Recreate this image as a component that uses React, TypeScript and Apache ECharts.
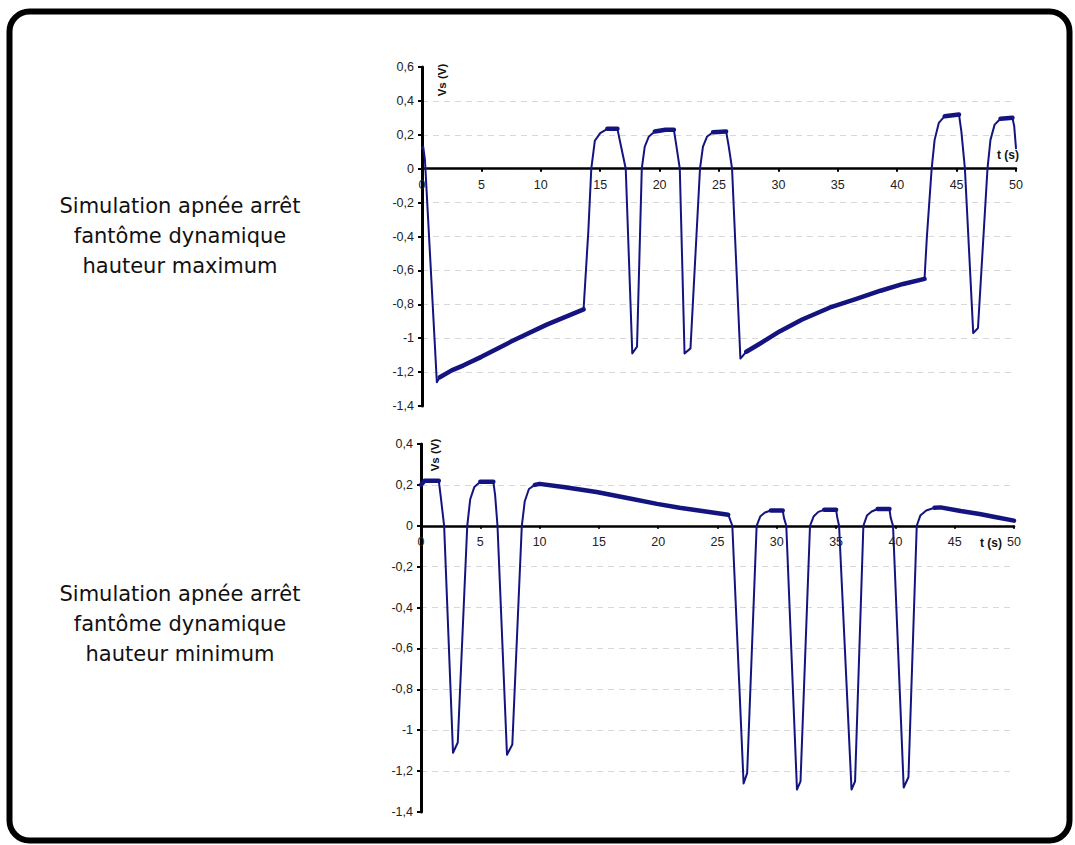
import React, { useEffect, useRef } from "react";
import * as echarts from "echarts";

// ---------- data ----------
const xTicks = [0, 5, 10, 15, 20, 25, 30, 35, 40, 45, 50];
const topYTicks = [0.6, 0.4, 0.2, 0, -0.2, -0.4, -0.6, -0.8, -1, -1.2, -1.4];
const bottomYTicks = [0.4, 0.2, 0, -0.2, -0.4, -0.6, -0.8, -1, -1.2, -1.4];

const topLabel = ["Simulation apnée arrêt", "fantôme dynamique", "hauteur maximum"];
const bottomLabel = ["Simulation apnée arrêt", "fantôme dynamique", "hauteur minimum"];
const yName = "Vs (V)";
const xName = "t (s)";

// Vs (V) vs t (s), hauteur maximum
const topTrace: [number, number][] = [
  [0, 0.12], [0.1, 0.13], [0.25, 0.05], [1.25, -1.26], [1.5, -1.23], [2.5, -1.19], [3.5, -1.16],
  [5, -1.11], [7.5, -1.02], [10.5, -0.92], [13.6, -0.83],
  [14.0, -0.37], [14.25, 0], [14.55, 0.165], [15.0, 0.21], [15.6, 0.235], [16.45, 0.235],
  [16.7, 0.15], [17.15, 0], [17.7, -1.09], [18.1, -1.05],
  [18.5, 0], [18.75, 0.13], [19.1, 0.19], [19.6, 0.22], [20.5, 0.23], [21.2, 0.23],
  [21.4, 0.14], [21.7, 0], [22.1, -1.09], [22.6, -1.06],
  [23.4, 0], [23.65, 0.13], [24.0, 0.19], [24.5, 0.215], [25.6, 0.22],
  [25.8, 0.14], [26.1, 0], [26.8, -1.12],
  [27.3, -1.08], [28.5, -1.03], [30.1, -0.96], [32, -0.89], [34.3, -0.82], [36.5, -0.77],
  [38.6, -0.72], [40.5, -0.68], [42.3, -0.65],
  [42.5, -0.4], [42.9, 0], [43.15, 0.17], [43.5, 0.27], [44.0, 0.31], [45.2, 0.32],
  [45.4, 0.22], [45.7, 0], [46.4, -0.97], [46.8, -0.94],
  [47.6, 0], [47.85, 0.17], [48.2, 0.26], [48.7, 0.295], [49.7, 0.3],
  [49.85, 0.25], [50, 0.12],
];
// time ranges where the recorded signal is noisy (drawn as a thicker band)
const topNoisy: [number, number][] = [
  [1.4, 13.6], [15.3, 16.45], [19.6, 21.2], [24.4, 25.6], [27.2, 42.3], [43.8, 45.2], [48.6, 49.7],
];

// Vs (V) vs t (s), hauteur minimum
const bottomTrace: [number, number][] = [
  [0, 0.2], [0.3, 0.22], [1.5, 0.22], [1.65, 0.15], [1.95, 0], [2.7, -1.11], [3.1, -1.06],
  [3.9, 0], [4.15, 0.13], [4.5, 0.19], [5.0, 0.215], [6.1, 0.215],
  [6.25, 0.15], [6.45, 0], [7.25, -1.12], [7.7, -1.07],
  [8.5, 0], [8.75, 0.12], [9.1, 0.18], [9.6, 0.2], [10.0, 0.205], [12, 0.19], [14.8, 0.165],
  [17.5, 0.135], [19.9, 0.107], [21.8, 0.088], [24, 0.07], [25.9, 0.054],
  [26.0, 0.04], [26.25, 0], [27.2, -1.26], [27.5, -1.21],
  [28.3, 0], [28.6, 0.045], [29.0, 0.065], [29.5, 0.075], [30.5, 0.075],
  [30.6, 0.04], [30.8, 0], [31.7, -1.29], [32.0, -1.25],
  [32.8, 0], [33.1, 0.045], [33.5, 0.068], [34.0, 0.078], [35.0, 0.078],
  [35.1, 0.04], [35.25, 0], [36.3, -1.29], [36.6, -1.25],
  [37.3, 0], [37.6, 0.05], [38.0, 0.07], [38.5, 0.082], [39.5, 0.082],
  [39.6, 0.04], [39.8, 0], [40.7, -1.28], [41.1, -1.23],
  [41.8, 0], [42.1, 0.05], [42.6, 0.075], [43.3, 0.088], [43.8, 0.09], [45.5, 0.072],
  [47.1, 0.058], [48.5, 0.042], [50, 0.025],
];
const bottomNoisy: [number, number][] = [
  [0, 1.5], [4.8, 6.1], [9.3, 25.9], [29.3, 30.5], [33.8, 35.0], [38.3, 39.5], [42.8, 50],
];

// ---------- helpers ----------
const LINE = "#141480";
const fmt = (v: number) => String(+v.toFixed(1)).replace(".", ",");
const labelFont = "Liberation Sans, Arial, sans-serif";

function bandData(trace: [number, number][], ranges: [number, number][]) {
  const out: any[] = [];
  ranges.forEach(([a, b], i) => {
    trace.forEach((p) => {
      if (p[0] >= a - 1e-9 && p[0] <= b + 1e-9) out.push(p);
    });
    if (i < ranges.length - 1) out.push([(a + b) / 2, null]);
  });
  return out;
}

// the x axis is drawn through y = 0 (labels follow it): shift it up from the grid bottom
function zeroOffset(gridHeight: number, ticks: number[]) {
  const max = ticks[0];
  const min = ticks[ticks.length - 1];
  return -gridHeight * ((0 - min) / (max - min));
}

function xAxisCfg(gridIndex: number, offset: number) {
  return {
    type: "value",
    gridIndex,
    position: "bottom",
    offset,
    min: xTicks[0],
    max: xTicks[xTicks.length - 1],
    interval: xTicks[1] - xTicks[0],
    axisLine: { onZero: false, lineStyle: { color: "#000", width: 2.5 } },
    axisTick: { show: true, inside: false, length: 3, lineStyle: { color: "#000", width: 2 } },
    axisLabel: {
      margin: 10,
      fontSize: 12.5,
      color: "#222",
      fontFamily: labelFont,
      formatter: (v: number) => String(v),
      showMaxLabel: true,
    },
    splitLine: { show: false },
  };
}

function yAxisCfg(gridIndex: number, ticks: number[]) {
  return {
    type: "value",
    gridIndex,
    min: ticks[ticks.length - 1],
    max: ticks[0],
    interval: 0.2,
    axisLine: { show: true, onZero: false, lineStyle: { color: "#000", width: 3 } },
    axisTick: { show: true, inside: false, length: 4, lineStyle: { color: "#000", width: 2 } },
    axisLabel: {
      margin: 8,
      fontSize: 12.5,
      color: "#222",
      fontFamily: labelFont,
      formatter: fmt,
    },
    splitLine: {
      show: true,
      showMinLine: false,
      showMaxLine: false,
      lineStyle: { color: "#d8d8d8", type: [6, 5], width: 1 },
    },
  };
}

function lineSeries(idx: number, data: any[], width: number) {
  return {
    type: "line",
    xAxisIndex: idx,
    yAxisIndex: idx,
    data,
    showSymbol: false,
    symbol: "none",
    connectNulls: false,
    lineStyle: { color: LINE, width, join: "round", cap: "round" },
    z: 3,
  };
}

const textFont = "DejaVu Sans, Verdana, sans-serif";
const TOP_H = 339;
const BOT_H = 368;

export default function App() {
  const ref = useRef<HTMLDivElement>(null);
  useEffect(() => {
    if (!ref.current) return;
    const chart = echarts.init(ref.current, undefined, { renderer: "svg" });
    const labelBlock = (lines: string[], cy: number) =>
      lines.map((s, i) => ({
        type: "text",
        x: 180,
        y: cy + (i - 1) * 30,
        style: {
          text: s,
          fill: "#111",
          font: `21px ${textFont}`,
          align: "center",
          verticalAlign: "middle",
        },
      }));
    const boldText = (text: string, x: number, y: number, rot: number, size: number) => ({
      type: "text",
      x,
      y,
      rotation: rot,
      style: {
        text,
        fill: "#111",
        font: `bold ${size}px ${labelFont}`,
        align: "center",
        verticalAlign: "middle",
      },
    });
    chart.setOption({
      animation: false,
      backgroundColor: "#fff",
      grid: [
        { left: 422, right: 59, top: 67, height: TOP_H },
        { left: 421, right: 61, top: 444, height: BOT_H },
      ],
      xAxis: [
        xAxisCfg(0, zeroOffset(TOP_H, topYTicks)),
        xAxisCfg(1, zeroOffset(BOT_H, bottomYTicks)),
      ],
      yAxis: [yAxisCfg(0, topYTicks), yAxisCfg(1, bottomYTicks)],
      series: [
        lineSeries(0, topTrace, 2),
        lineSeries(0, bandData(topTrace, topNoisy), 4.5),
        lineSeries(1, bottomTrace, 2),
        lineSeries(1, bandData(bottomTrace, bottomNoisy), 4.5),
      ],
      graphic: [
        {
          type: "rect",
          shape: { x: 9.5, y: 11.5, width: 1060, height: 829, r: 20 },
          style: { fill: "none", stroke: "#000", lineWidth: 6 },
          z: 10,
        },
        ...labelBlock(topLabel, 236),
        ...labelBlock(bottomLabel, 624),
        boldText(yName, 442, 80, Math.PI / 2, 11.5),
        boldText(yName, 435, 455, Math.PI / 2, 11.5),
        boldText(xName, 1008, 155, 0, 12),
        boldText(xName, 991, 543, 0, 12),
      ],
    });
    return () => chart.dispose();
  }, []);
  return (
    <div
      ref={ref}
      style={{ position: "fixed", left: 0, top: 0, width: 1075, height: 845 }}
    />
  );
}
